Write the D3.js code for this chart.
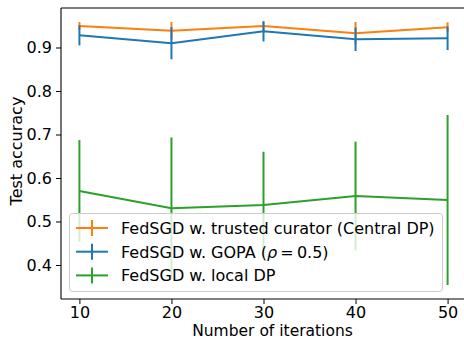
<!DOCTYPE html>
<html><head><meta charset="utf-8">
<script src="https://cdn.jsdelivr.net/npm/d3@7"></script>
<style>
html,body{margin:0;padding:0;background:#fff;}
svg{display:block;font-family:"DejaVu Sans",sans-serif;}
</style></head>
<body>
<svg id="chart" width="464" height="339"></svg>
<script>
const iterations = [10, 20, 30, 40, 50];
const centralMean = [0.9494, 0.9386, 0.9494, 0.9326, 0.9464];
const centralErr  = [0.0092, 0.0200, 0.0100, 0.0260, 0.0115];
const gopaMean = [0.9280, 0.9097, 0.9372, 0.9189, 0.9211];
const gopaErr  = [0.0230, 0.0368, 0.0233, 0.0270, 0.0270];
const localMean = [0.5701, 0.5303, 0.5379, 0.5586, 0.5494];
const localErr  = [0.1170, 0.1630, 0.1225, 0.1250, 0.1954];
const xTicks = [10, 20, 30, 40, 50];
const yTicks = [0.4, 0.5, 0.6, 0.7, 0.8, 0.9];
const seriesNames = ["FedSGD w. trusted curator (Central DP)", "FedSGD w. GOPA", "FedSGD w. local DP"];
const seriesColors = ["#ff7f0e", "#1f77b4", "#2ca02c"];

const series = [
  {name: seriesNames[0], color: seriesColors[0], mean: centralMean, err: centralErr},
  {name: seriesNames[1], color: seriesColors[1], mean: gopaMean, err: gopaErr},
  {name: seriesNames[2], color: seriesColors[2], mean: localMean, err: localErr}
];

const svg = d3.select("#chart");
const L = 61, R = 466, T = 8, B = 299;
const x = d3.scaleLinear().domain([8, 52]).range([L, R]);
const y = d3.scaleLinear().domain([0.3218, 0.9908]).range([B, T]);

// series
series.forEach(s => {
  const g = svg.append("g");
  const pts = iterations.map((it, i) => ({x: it, m: s.mean[i], e: s.err[i]}));
  g.selectAll("line.err").data(pts).enter().append("line")
    .attr("x1", d => x(d.x)).attr("x2", d => x(d.x))
    .attr("y1", d => y(d.m - d.e)).attr("y2", d => y(d.m + d.e))
    .attr("stroke", s.color).attr("stroke-width", 2);
  g.append("path").datum(pts)
    .attr("d", d3.line().x(d => x(d.x)).y(d => y(d.m)))
    .attr("fill", "none").attr("stroke", s.color).attr("stroke-width", 2);
});

// axes
const xAxis = d3.axisBottom(x).tickValues(xTicks).tickSize(5).tickPadding(3).tickFormat(d3.format("d"));
const gx = svg.append("g").attr("transform", `translate(0,${B})`).call(xAxis);
gx.select(".domain").remove();
gx.selectAll("text").attr("font-size", 16).attr("fill", "#000").attr("font-family", "DejaVu Sans");
gx.selectAll("line").attr("stroke", "#000");

const yAxis = d3.axisLeft(y).tickValues(yTicks).tickSize(5).tickPadding(4).tickFormat(d3.format(".1f"));
const gy = svg.append("g").attr("transform", `translate(${L},0)`).call(yAxis);
gy.select(".domain").remove();
gy.selectAll("text").attr("font-size", 16).attr("fill", "#000").attr("font-family", "DejaVu Sans");
gy.selectAll("line").attr("stroke", "#000");

// spines
svg.append("line").attr("x1", L).attr("x2", 464).attr("y1", T).attr("y2", T).attr("stroke", "#000").attr("stroke-width", 1.1);
svg.append("line").attr("x1", L).attr("x2", L).attr("y1", T).attr("y2", B).attr("stroke", "#000").attr("stroke-width", 1.1);
svg.append("line").attr("x1", L).attr("x2", 464).attr("y1", B).attr("y2", B).attr("stroke", "#000").attr("stroke-width", 1.1);

// labels
svg.append("text").attr("x", 272.5).attr("y", 335.5).attr("text-anchor", "middle")
  .attr("font-size", 15.5).attr("fill", "#000").text("Number of iterations");
svg.append("text").attr("transform", "translate(22,151) rotate(-90)").attr("text-anchor", "middle")
  .attr("font-size", 16).attr("fill", "#000").text("Test accuracy");

// legend
const lg = svg.append("g");
lg.append("rect").attr("x", 69.5).attr("y", 213.5).attr("width", 373).attr("height", 78)
  .attr("rx", 3).attr("fill", "#fff").attr("fill-opacity", 0.8).attr("stroke", "#cccccc").attr("stroke-width", 1);
const rowY = [228, 251.7, 275.4];
series.forEach((s, i) => {
  const yy = rowY[i];
  lg.append("line").attr("x1", 76).attr("x2", 108).attr("y1", yy).attr("y2", yy).attr("stroke", s.color).attr("stroke-width", 2);
  lg.append("line").attr("x1", 92).attr("x2", 92).attr("y1", yy - 8).attr("y2", yy + 8).attr("stroke", s.color).attr("stroke-width", 2);
  const t = lg.append("text").attr("x", 121).attr("y", yy + 6).attr("font-size", 16).attr("fill", "#000");
  if (i === 1) {
    t.append("tspan").text(s.name + " (");
    t.append("tspan").attr("font-style", "italic").text("ρ");
    t.append("tspan").text("\u2009=\u20090.5)");
  } else {
    t.text(s.name);
  }
});
</script>
</body></html>
